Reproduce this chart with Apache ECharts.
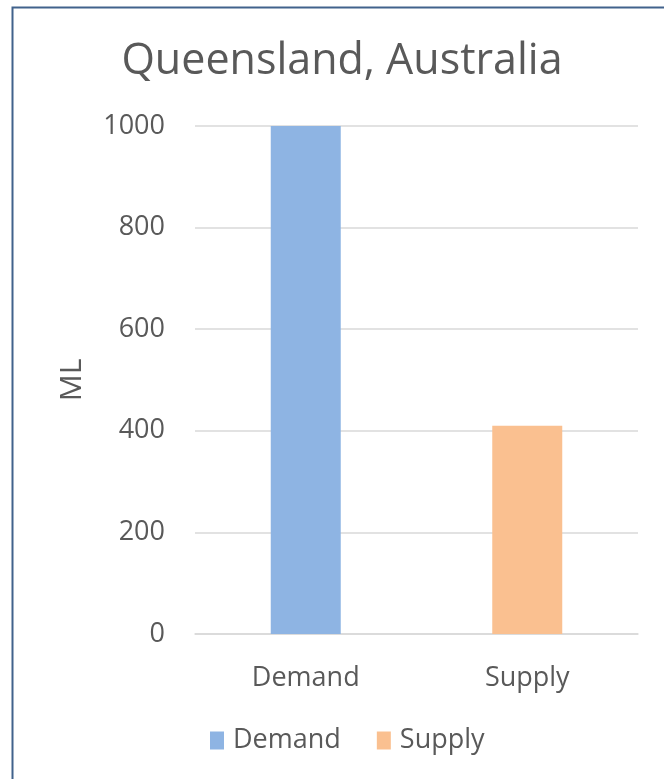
<!DOCTYPE html>
<html><head><meta charset="utf-8">
<script src="https://cdn.jsdelivr.net/npm/echarts@6/dist/echarts.min.js"></script>
<style>html,body{margin:0;padding:0;background:#fff}#c{width:664px;height:779px}</style>
</head><body><div id="c"></div>
<script>
const categories = ['Demand', 'Supply'];
const values = [1000, 410];
const colors = ['#8eb4e3', '#fac090'];
const yTicks = [0, 200, 400, 600, 800, 1000];
const titleText = 'Queensland, Australia';
const axisName = 'ML';

const chart = echarts.init(document.getElementById('c'));
const font = '"Open Sans", "Noto Sans", sans-serif';
chart.setOption({
  animation: false,
  graphic: [
    {type: 'rect', shape: {x: 12.5, y: 7.5, width: 700, height: 800}, style: {fill: 'none', stroke: '#41628c', lineWidth: 2}},
    {type: 'text', x: 342, y: 62, style: {text: titleText, align: 'center', verticalAlign: 'middle',
      font: 'normal 43px "Open Sans", sans-serif', fill: '#595959'}}
  ],
  legend: {bottom: 20, left: 205, icon: 'rect', itemWidth: 14, itemHeight: 18, itemGap: 36,
    data: categories.map((c, i) => ({name: c, itemStyle: {color: colors[i]}})),
    textStyle: {fontFamily: font, fontSize: 27, color: '#595959', padding: [0, 0, 0, 4]}},
  grid: {left: 195, right: 26, top: 126, bottom: 145, containLabel: false},
  xAxis: {type: 'category', data: categories,
    axisLine: {lineStyle: {color: '#d9d9d9', width: 1.5}}, axisTick: {show: false},
    axisLabel: {fontFamily: font, fontSize: 27, color: '#595959', margin: 31}},
  yAxis: {type: 'value', min: yTicks[0], max: yTicks[yTicks.length - 1], interval: 200,
    name: axisName, nameLocation: 'middle', nameGap: 108, nameRotate: 90,
    nameTextStyle: {fontFamily: font, fontSize: 30, color: '#595959'},
    axisLine: {show: false}, axisTick: {show: false},
    axisLabel: {fontFamily: font, fontSize: 27, color: '#595959', margin: 30, formatter: v => String(v)},
    splitLine: {lineStyle: {color: '#d9d9d9', width: 1.5}}},
  series: categories.map((c, i) => ({
    name: c, type: 'bar', stack: 'all', barWidth: 70,
    data: categories.map((_, j) => j === i ? values[i] : null),
    itemStyle: {color: colors[i]}
  }))
});
</script></body></html>
